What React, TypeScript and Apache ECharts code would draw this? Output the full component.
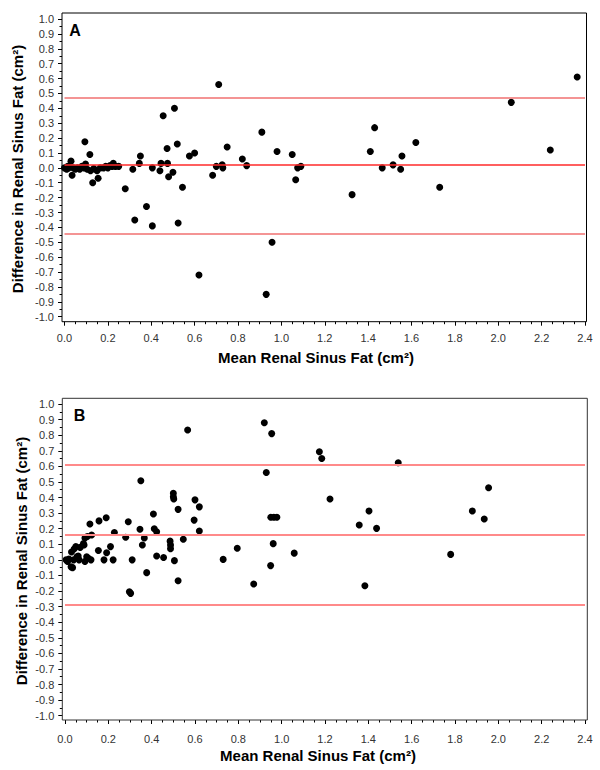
import React, { useEffect, useRef } from "react";
import * as echarts from "echarts";

// Panel A: mean (x) and difference (y)
const meanA = [0.0, 0.01, 0.015, 0.02, 0.03, 0.035, 0.04, 0.05, 0.06, 0.07, 0.08, 0.09, 0.094, 0.097, 0.105, 0.117, 0.12, 0.13, 0.135, 0.15, 0.155, 0.165, 0.18, 0.19, 0.2, 0.21, 0.22, 0.225, 0.235, 0.25, 0.28, 0.315, 0.324, 0.345, 0.35, 0.378, 0.405, 0.405, 0.44, 0.445, 0.455, 0.473, 0.475, 0.48, 0.5, 0.507, 0.52, 0.524, 0.544, 0.576, 0.6, 0.62, 0.683, 0.7, 0.711, 0.727, 0.73, 0.75, 0.82, 0.84, 0.91, 0.93, 0.957, 0.98, 1.05, 1.066, 1.075, 1.09, 1.326, 1.41, 1.43, 1.465, 1.515, 1.55, 1.556, 1.62, 1.73, 2.06, 2.24, 2.364];
const diffA = [0.0, -0.01, 0.01, 0.0, 0.045, -0.05, 0.0, -0.01, 0.0, -0.01, 0.01, 0.0, 0.175, 0.025, -0.01, 0.09, -0.02, -0.1, -0.005, -0.02, -0.07, 0.0, 0.0, 0.01, 0.0, 0.015, 0.01, 0.03, 0.01, 0.01, -0.14, -0.01, -0.35, 0.03, 0.08, -0.26, 0.0, -0.39, -0.02, 0.03, 0.35, 0.13, 0.03, -0.06, -0.03, 0.4, 0.16, -0.37, -0.13, 0.08, 0.1, -0.72, -0.05, 0.01, 0.56, 0.02, 0.0, 0.14, 0.06, 0.015, 0.24, -0.85, -0.5, 0.11, 0.09, -0.08, 0.0, 0.01, -0.18, 0.11, 0.27, 0.0, 0.02, -0.01, 0.08, 0.17, -0.13, 0.44, 0.12, 0.61];

// Panel B: mean (x) and difference (y)
const meanB = [0.005, 0.012, 0.018, 0.028, 0.03, 0.035, 0.04, 0.042, 0.05, 0.055, 0.061, 0.065, 0.07, 0.085, 0.088, 0.092, 0.092, 0.1, 0.103, 0.108, 0.115, 0.12, 0.123, 0.154, 0.157, 0.18, 0.19, 0.192, 0.21, 0.222, 0.228, 0.28, 0.292, 0.297, 0.303, 0.31, 0.346, 0.35, 0.357, 0.366, 0.377, 0.408, 0.412, 0.423, 0.423, 0.455, 0.485, 0.487, 0.487, 0.5, 0.5, 0.502, 0.505, 0.522, 0.522, 0.546, 0.566, 0.596, 0.6, 0.62, 0.62, 0.73, 0.795, 0.871, 0.92, 0.929, 0.949, 0.954, 0.95, 0.964, 0.978, 0.961, 1.058, 1.174, 1.185, 1.223, 1.358, 1.384, 1.403, 1.438, 1.538, 1.78, 1.88, 1.935, 1.955];
const diffB = [0.0, -0.01, 0.005, -0.045, 0.05, -0.05, 0.0, 0.07, 0.085, 0.02, 0.025, 0.0, 0.08, 0.105, 0.095, -0.01, 0.14, 0.02, 0.15, 0.01, 0.23, 0.0, 0.16, 0.06, 0.25, 0.0, 0.27, 0.045, 0.085, 0.0, 0.175, 0.145, 0.245, -0.205, -0.215, 0.0, 0.196, 0.508, 0.095, 0.14, -0.082, 0.294, 0.2, 0.18, 0.025, 0.015, 0.12, 0.095, 0.072, 0.427, 0.405, 0.39, -0.005, 0.324, -0.134, 0.132, 0.833, 0.255, 0.385, 0.34, 0.185, 0.003, 0.074, -0.155, 0.88, 0.56, -0.037, 0.81, 0.273, 0.273, 0.273, 0.104, 0.043, 0.694, 0.65, 0.39, 0.224, -0.166, 0.313, 0.202, 0.623, 0.035, 0.313, 0.262, 0.463];

// Bias (mean) and limits of agreement: [upper, mean, lower]
const limitsA = [0.468, 0.016, -0.437];
const limitsB = [0.615, 0.159, -0.295];

const panelLabels = ["A", "B"];
const xTitle = "Mean Renal Sinus Fat (cm\u00B2)";
const yTitle = "Difference in Renal Sinus Fat (cm\u00B2)";
const xRange = [0, 2.4, 0.2];
const yRange = [-1, 1, 0.1];

const FONT = 'Arial, "Liberation Sans", sans-serif';

const fmt = (v: number) => (Math.abs(v) < 1e-9 ? "0.0" : v.toFixed(1));

export default function App() {
  const ref = useRef<HTMLDivElement>(null);
  useEffect(() => {
    if (!ref.current) return;
    const chart = echarts.init(ref.current, undefined, { renderer: "svg" });

    const grids = [
      { left: 64.5, top: 19, width: 520.5, height: 297.7 },
      { left: 65, top: 404, width: 520, height: 311.7 },
    ];
    const xOffsets = [5, 4.3];
    const xMargins = [11, 13];
    const yOffsets = [2.5, 2.7];

    const mkX = (i: number) => ({
      type: "value",
      gridIndex: i,
      position: "bottom",
      min: xRange[0],
      max: xRange[1],
      interval: xRange[2],
      offset: xOffsets[i],
      axisLine: { show: false, onZero: false },
      axisTick: { show: true, length: 4, lineStyle: { color: "#000", width: 1 } },
      minorTick: { show: true, splitNumber: 4, length: 2.5, lineStyle: { color: "#000", width: 1 } },
      splitLine: { show: false },
      axisLabel: { formatter: fmt, fontSize: 11, color: "#333", fontFamily: FONT, margin: xMargins[i] },
    });
    const mkY = (i: number) => ({
      type: "value",
      gridIndex: i,
      position: "left",
      min: yRange[0],
      max: yRange[1],
      interval: yRange[2],
      offset: yOffsets[i],
      axisLine: { show: false, onZero: false },
      axisTick: { show: true, length: 4, lineStyle: { color: "#000", width: 1 } },
      minorTick: { show: true, splitNumber: 2, length: 2.5, lineStyle: { color: "#000", width: 1 } },
      splitLine: { show: false },
      axisLabel: { formatter: fmt, fontSize: 11, color: "#333", fontFamily: FONT, margin: 8 },
    });

    const mkLines = (lim: number[], colors: string[], widths: number[]) => ({
      silent: true,
      symbol: "none",
      animation: false,
      label: { show: false },
      data: lim.map((v, k) => ({ yAxis: v, lineStyle: { color: colors[k], width: widths[k], type: "solid", opacity: 1 } })),
    });

    const option = {
      animation: false,
      backgroundColor: "#fff",
      grid: grids,
      xAxis: [mkX(0), mkX(1)],
      yAxis: [mkY(0), mkY(1)],
      series: [
        {
          type: "scatter",
          xAxisIndex: 0,
          yAxisIndex: 0,
          symbol: "circle",
          symbolSize: 7,
          itemStyle: { color: "#000", opacity: 1 },
          data: meanA.map((x, k) => [x, diffA[k]]),
          markLine: mkLines(limitsA, ["#f07070", "#ff2a2a", "#f07070"], [1.5, 1.5, 1.5]),
          z: 3,
        },
        {
          type: "scatter",
          xAxisIndex: 1,
          yAxisIndex: 1,
          symbol: "circle",
          symbolSize: 7,
          itemStyle: { color: "#000", opacity: 1 },
          data: meanB.map((x, k) => [x, diffB[k]]),
          markLine: mkLines(limitsB, ["#ff8a8a", "#ff8a8a", "#ff8a8a"], [2, 2, 2]),
          z: 3,
        },
      ],
      graphic: [
        { type: "rect", shape: { x: 62, y: 13, width: 524.5, height: 308.7 }, style: { fill: "none", stroke: "#000", lineWidth: 1 }, z: 10 },
        { type: "rect", shape: { x: 62.3, y: 398.3, width: 525, height: 321.7 }, style: { fill: "none", stroke: "#333", lineWidth: 1 }, z: 10 },
        { type: "text", x: 75, y: 30, style: { text: panelLabels[0], font: `bold 16px ${FONT}`, fill: "#000", align: "center", verticalAlign: "middle" }, z: 10 },
        { type: "text", x: 79.5, y: 415, style: { text: panelLabels[1], font: `bold 16px ${FONT}`, fill: "#000", align: "center", verticalAlign: "middle" }, z: 10 },
        { type: "text", x: 316, y: 357, style: { text: xTitle, font: `bold 15px ${FONT}`, fill: "#000", align: "center", verticalAlign: "middle" } },
        { type: "text", x: 318, y: 755, style: { text: xTitle, font: `bold 15px ${FONT}`, fill: "#000", align: "center", verticalAlign: "middle" } },
        { type: "text", x: 17, y: 169, rotation: Math.PI / 2, style: { text: yTitle, font: `bold 15px ${FONT}`, fill: "#000", align: "center", verticalAlign: "middle" } },
        { type: "text", x: 21, y: 561, rotation: Math.PI / 2, style: { text: yTitle, font: `bold 15px ${FONT}`, fill: "#000", align: "center", verticalAlign: "middle" } },
      ],
    };
    chart.setOption(option as any);
    return () => chart.dispose();
  }, []);
  return <div ref={ref} style={{ position: "fixed", left: 0, top: 0, width: 600, height: 770, background: "#fff" }} />;
}
